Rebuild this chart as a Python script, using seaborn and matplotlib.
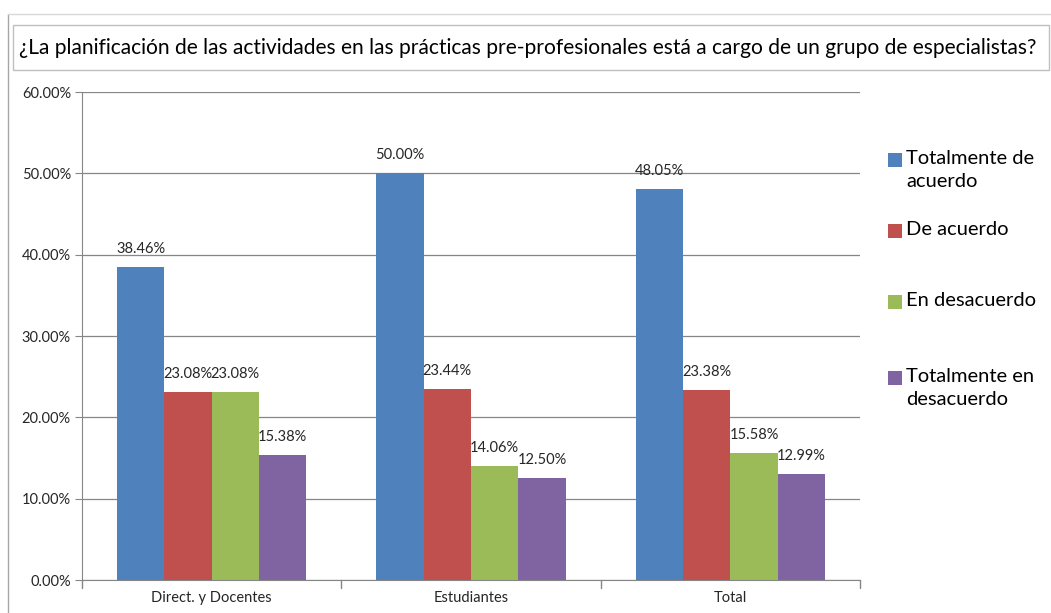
import numpy as np
import pandas as pd
import matplotlib
matplotlib.use("Agg")
import matplotlib.pyplot as plt
import seaborn as sns
from matplotlib.patches import Rectangle
from matplotlib.lines import Line2D

groups = ["Direct. y Docentes", "Estudiantes", "Total"]
answers = ["Totalmente de acuerdo", "De acuerdo", "En desacuerdo", "Totalmente en desacuerdo"]
legend_labels = ["Totalmente de\nacuerdo", "De acuerdo", "En desacuerdo", "Totalmente en\ndesacuerdo"]
totalmente_de_acuerdo = [38.46, 50.00, 48.05]
de_acuerdo = [23.08, 23.44, 23.38]
en_desacuerdo = [23.08, 14.06, 15.58]
totalmente_en_desacuerdo = [15.38, 12.50, 12.99]
colors = ["#4F81BD", "#C0504D", "#9BBB59", "#8064A2"]
title = "¿La planificación de las actividades en las prácticas pre-profesionales está a cargo de un grupo de especialistas?"

series = [totalmente_de_acuerdo, de_acuerdo, en_desacuerdo, totalmente_en_desacuerdo]
rows = []
for ans, vals in zip(answers, series):
    for g, v in zip(groups, vals):
        rows.append({"grupo": g, "respuesta": ans, "valor": v})
df = pd.DataFrame(rows)

sns.set_style("white")
plt.rcParams["font.family"] = ["Lato", "DejaVu Sans"]

W, H = 1051, 613
fig = plt.figure(figsize=(W / 100, H / 100), dpi=100)

# outer chart frame (top and left edges visible)
fig.add_artist(Line2D([8 / W, 8 / W], [0, 1 - 14 / H], transform=fig.transFigure, color="#A6A6A6", lw=1))
fig.add_artist(Line2D([8 / W, 1], [1 - 14 / H, 1 - 14 / H], transform=fig.transFigure, color="#D9D9D9", lw=1))
# title box
fig.add_artist(Rectangle((13 / W, 1 - 70 / H), (1049 - 13) / W, 45 / H, transform=fig.transFigure,
                         facecolor="white", edgecolor="#BFBFBF", lw=1))
fig.text(19 / W, 1 - 48 / H, title, fontsize=15.1, va="center", ha="left", color="black")

ax = fig.add_axes([82 / W, 1 - 580 / H, (860 - 82) / W, (580 - 92) / H])
sns.barplot(data=df, x="grupo", y="valor", hue="respuesta", hue_order=answers, order=groups,
            palette=colors, width=0.73, saturation=1, linewidth=0, ax=ax, legend=False)

for cont in ax.containers:
    ax.bar_label(cont, labels=[f"{v:.2f}%" for v in cont.datavalues], fontsize=10.5, padding=8)

ax.set_ylim(0, 60)
ax.set_xlim(-0.5, 2.5)
ax.set_yticks(np.arange(0, 61, 10))
ax.set_yticklabels([f"{t:.2f}%" for t in np.arange(0, 61, 10)], fontsize=10.5)
ax.set_xticks([0, 1, 2])
ax.set_xticklabels(groups, fontsize=10.5)
ax.tick_params(axis="x", length=0, pad=8)
ax.tick_params(axis="y", length=5, color="#868686", pad=3, left=True)
for x in [-0.5, 0.5, 1.5, 2.5]:
    ax.plot([x, x], [0, -1.0], color="#868686", lw=1, clip_on=False)
ax.yaxis.grid(True, color="#868686", lw=0.9)
ax.set_axisbelow(True)
ax.set_xlabel("")
ax.set_ylabel("")
for s in ["top", "right"]:
    ax.spines[s].set_visible(False)
ax.spines["left"].set_color("#868686")
ax.spines["bottom"].set_color("#868686")

# legend, laid out like the Excel original
legend_y = [160, 231, 302, 378]
for c, lab, y in zip(colors, legend_labels, legend_y):
    fig.add_artist(Rectangle((888 / W, 1 - (y + 7) / H), 14 / W, 14 / H, transform=fig.transFigure,
                             facecolor=c, edgecolor="none"))
    fig.text(906 / W, 1 - (y - 10) / H, lab, fontsize=14.5, va="top", ha="left",
             linespacing=1.45, color="black")

fig.savefig("out.png", dpi=100)
